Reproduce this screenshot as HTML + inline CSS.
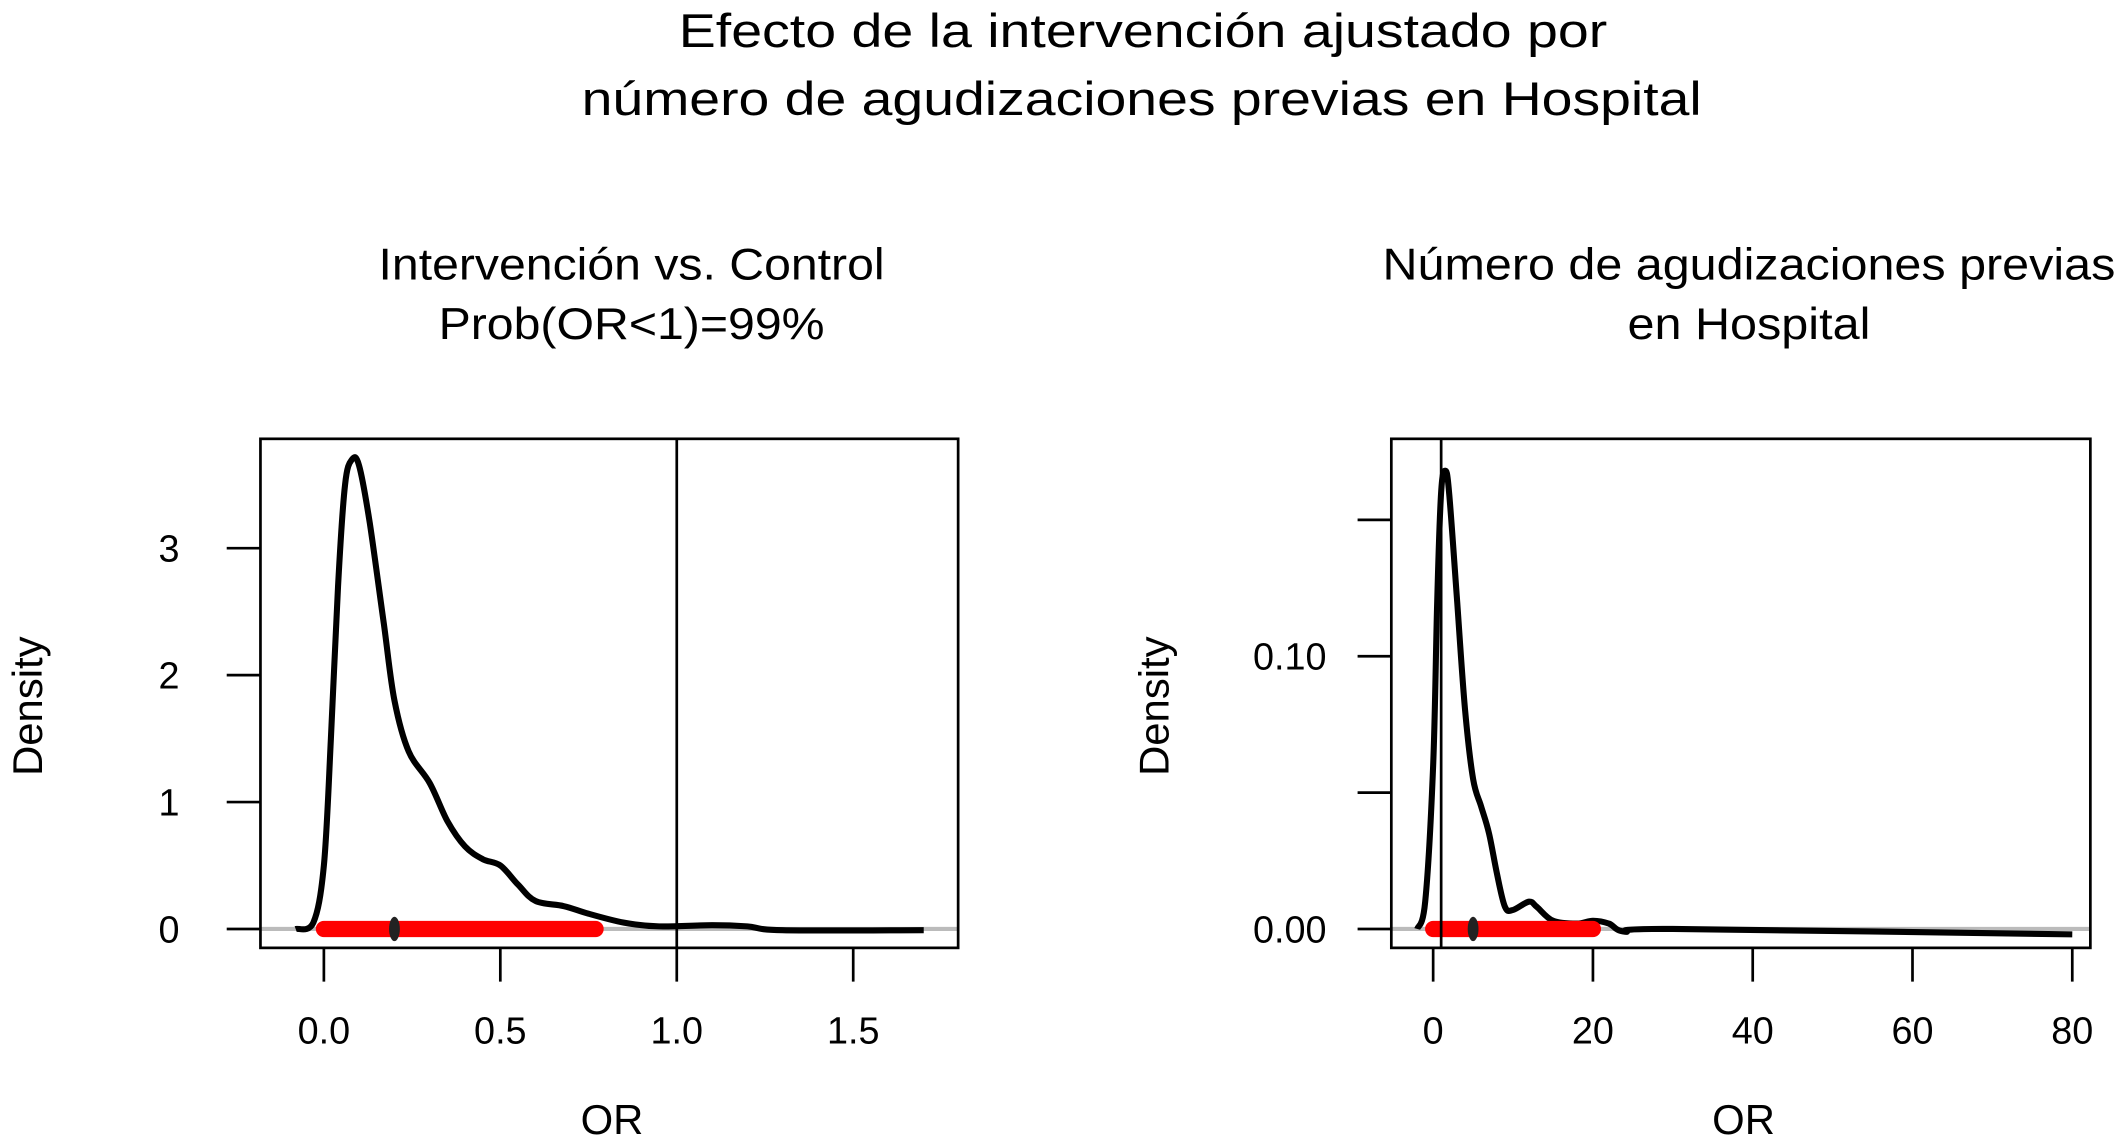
<!DOCTYPE html>
<html><head><meta charset="utf-8"><style>html,body{margin:0;padding:0;background:#fff}svg{display:block}text{font-family:"Liberation Sans",Arial,sans-serif;fill:#000}</style></head>
<body>
<svg id="fig" width="2116" height="1145" viewBox="0 0 1568 848" preserveAspectRatio="none" xmlns="http://www.w3.org/2000/svg">
<text x="847" y="35" font-size="35" text-anchor="middle" textLength="688" lengthAdjust="spacingAndGlyphs">Efecto de la intervención ajustado por</text>
<text x="846" y="85" font-size="35" text-anchor="middle" textLength="830" lengthAdjust="spacingAndGlyphs">número de agudizaciones previas en Hospital</text>
<g id="p1"></g>
<g id="p2"></g>
</svg>
<script>
// Panel 1 data
const xs1 = [-0.08,-0.03,0.0,0.02,0.04,0.06,0.08,0.1,0.13,0.17,0.2,0.24,0.3,0.35,0.4,0.45,0.5,0.55,0.6,0.68,0.75,0.85,0.95,1.1,1.2,1.3,1.7];
const ys1 = [0,0.05,0.5,1.5,2.7,3.5,3.7,3.65,3.2,2.4,1.8,1.4,1.15,0.85,0.65,0.55,0.5,0.35,0.22,0.18,0.12,0.05,0.02,0.03,0.02,-0.01,-0.01];
const xticks1 = [0,0.5,1,1.5];
const xtickLabels1 = ["0.0","0.5","1.0","1.5"];
const yticks1 = [0,1,2,3];
const ytickLabels1 = ["0","1","2","3"];
const ci1 = [0.0,0.77];
const median1 = [0.2];
const ref1 = [1];
// Panel 2 data
const xs2 = [-2,-1,0,0.5,1,1.5,2,3,4,5,6,7,8,9,10,12,13,15,18,20,22,24,30,80];
const ys2 = [0,0.01,0.06,0.12,0.16,0.168,0.16,0.12,0.08,0.055,0.045,0.035,0.02,0.008,0.007,0.01,0.008,0.003,0.002,0.003,0.002,-0.001,0,-0.002];
const xticks2 = [0,20,40,60,80];
const xtickLabels2 = ["0","20","40","60","80"];
const yticks2 = [0,0.05,0.1,0.15];
const ytickLabels2 = ["0.00","","0.10",""];
const ci2 = [0,20];
const median2 = [5];
const ref2 = [1];

const NS="http://www.w3.org/2000/svg";
function mk(parent,tag,attrs){const e=document.createElementNS(NS,tag);for(const k in attrs)e.setAttribute(k,attrs[k]);parent.appendChild(e);return e;}
function smooth(p){
  let d='M'+p[0][0].toFixed(1)+','+p[0][1].toFixed(1);
  for(let i=0;i<p.length-1;i++){
    const p0=p[Math.max(0,i-1)],p1=p[i],p2=p[i+1],p3=p[Math.min(p.length-1,i+2)];
    const c1=[p1[0]+(p2[0]-p0[0])/6,p1[1]+(p2[1]-p0[1])/6];
    const c2=[p2[0]-(p3[0]-p1[0])/6,p2[1]-(p3[1]-p1[1])/6];
    d+=` C${c1[0].toFixed(1)},${c1[1].toFixed(1)} ${c2[0].toFixed(1)},${c2[1].toFixed(1)} ${p2[0].toFixed(1)},${p2[1].toFixed(1)}`;
  }
  return d;
}

function panel(g,cfg){
  const X=v=>cfg.x0px+(v-cfg.x0)*cfg.xs;
  const Y=v=>cfg.y0px-v*cfg.ys;
  const b=cfg.box;
  let e=mk(g,'line',{x1:b[0],x2:b[2],y1:Y(0),y2:Y(0),stroke:'#bbb','stroke-width':3});
  
  
  const pts=cfg.xs_.map((v,i)=>[X(v),Y(cfg.ys_[i])]);
  e=mk(g,'path',{d:smooth(pts),fill:'none',stroke:'#000','stroke-width':4.5,'stroke-linejoin':'round'});
  
  
  e=mk(g,'line',{x1:X(cfg.ci[0]),x2:X(cfg.ci[1]),y1:Y(0),y2:Y(0),stroke:'#f00','stroke-width':12,'stroke-linecap':'round'});
  
  
  e=mk(g,'ellipse',{cx:X(cfg.med[0]),cy:Y(0),rx:4,ry:9,fill:'#222'});
  
  
  e=mk(g,'line',{x1:X(cfg.ref[0]),x2:X(cfg.ref[0]),y1:b[1],y2:b[3],stroke:'#000','stroke-width':2});
  
  
  e=mk(g,'rect',{x:b[0],y:b[1],width:b[2]-b[0],height:b[3]-b[1],fill:'none',stroke:'#000','stroke-width':2});
  
  
  cfg.xt.forEach((v,i)=>{
    let t=mk(g,'line',{x1:X(v),x2:X(v),y1:b[3],y2:b[3]+25,stroke:'#000','stroke-width':2});
    
    
    let l=mk(g,'text',{x:X(v),y:773,'font-size':28,'text-anchor':'middle'});l.textContent=cfg.xl[i];
    
    
  });
  cfg.yt.forEach((v,i)=>{
    let t=mk(g,'line',{x1:b[0]-25,x2:b[0],y1:Y(v),y2:Y(v),stroke:'#000','stroke-width':2});
    
    
    let l=mk(g,'text',{x:cfg.ylx,y:Y(v)+10,'font-size':28,'text-anchor':'end'});l.textContent=cfg.yl[i];
    
    
  });
  e=mk(g,'text',{x:(b[0]+b[2])/2+2,y:840,'font-size':31,'text-anchor':'middle'});e.textContent='OR';
  
  
  e=mk(g,'text',{x:0,y:0,'font-size':31,'text-anchor':'middle',transform:`translate(${cfg.dx},523) rotate(-90)`});e.textContent='Density';
  
  
  cfg.sub.forEach((s,i)=>{
    let l=mk(g,'text',{x:cfg.subx,y:207+i*44,'font-size':33,'text-anchor':'middle',textLength:cfg.subw[i],lengthAdjust:'spacingAndGlyphs'});l.textContent=s;
    
    
  });
}
panel(document.getElementById('p1'),{x0:0,x0px:240,xs:261.5,y0px:688,ys:94,box:[193,325,710,702],
  xs_:xs1,ys_:ys1,ci:ci1,med:median1,ref:ref1,xt:xticks1,xl:xtickLabels1,yt:yticks1,yl:ytickLabels1,ylx:133,dx:31,
  sub:["Intervención vs. Control","Prob(OR<1)=99%"],subw:[375,286],subx:468});
panel(document.getElementById('p2'),{x0:0,x0px:1062,xs:5.92,y0px:688,ys:2020,box:[1031,325,1549,702],
  xs_:xs2,ys_:ys2,ci:ci2,med:median2,ref:ref2,xt:xticks2,xl:xtickLabels2,yt:yticks2,yl:ytickLabels2,ylx:983,dx:866,
  sub:["Número de agudizaciones previas","en Hospital"],subw:[543,180],subx:1296});
</script>
</body></html>
